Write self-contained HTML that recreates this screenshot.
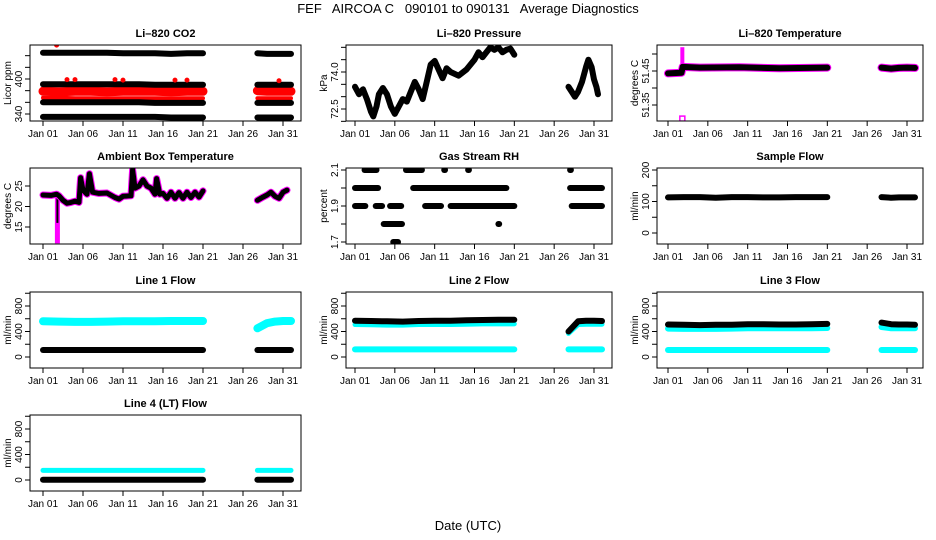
<!DOCTYPE html>
<html><head><meta charset="utf-8">
<style>
html,body{margin:0;padding:0;background:#fff;}
svg{display:block;font-family:"Liberation Sans",sans-serif;}
</style></head>
<body>
<svg id="fig" width="936" height="540" viewBox="0 0 936 540">
<text x="468" y="13" text-anchor="middle" font-size="13" xml:space="preserve">FEF   AIRCOA C   090101 to 090131   Average Diagnostics</text>
<text x="468" y="530" text-anchor="middle" font-size="13">Date (UTC)</text>
</svg>
<script>
// ---- shared day arrays ----
const dayA = [1, 3, 5, 7, 9, 11, 13, 15, 17, 19, 21];
const dayB = [27.8, 29, 30, 31, 32];
const xTickDays = [1, 6, 11, 16, 21, 26, 31];
const xTickLabels = ["Jan 01", "Jan 06", "Jan 11", "Jan 16", "Jan 21", "Jan 26", "Jan 31"];

// ---- CO2 ----
const co2Black1A = [445, 445, 445, 445, 445, 444, 444, 444, 443, 444, 444];
const co2Black1B = [444, 443, 443, 443, 443];
const co2Black2A = [391, 391, 391, 391, 391, 391, 391, 390, 390, 390, 390];
const co2Black2B = [390, 390, 390, 390, 390];
const co2RedA = [379, 378, 379, 379, 378, 379, 379, 379, 378, 379, 379];
const co2RedB = [380, 379, 379, 379, 379];
const co2Red2A = [368, 368, 367, 367, 367, 367, 367, 367, 367, 367, 367];
const co2Red2B = [367, 367, 367, 367, 367];
const co2Black3A = [360, 360, 360, 360, 360, 360, 360, 359, 359, 359, 359];
const co2Black3B = [359, 359, 359, 359, 359];
const co2Black4A = [335, 335, 335, 335, 335, 335, 335, 335, 334, 334, 334];
const co2Black4B = [334, 334, 334, 334, 334];
const co2OutDays = [2.7, 4, 5, 10, 11, 17.5, 19, 30.5];
const co2OutVals = [458, 399, 399, 399, 398, 398, 398, 397];

// ---- Pressure ----
const presDaysA = [1, 1.5, 2, 2.5, 3, 3.3, 3.7, 4, 4.5, 5, 5.5, 6, 6.5, 7, 7.5, 8, 8.5, 9, 9.5, 10, 10.5, 11, 11.5, 12, 12.5, 13, 14, 15, 16, 16.5, 17, 17.5, 18, 18.5, 19, 19.5, 20, 20.5, 21];
const presValsA = [73.4, 73.1, 73.3, 72.9, 72.4, 72.2, 72.6, 73.1, 73.35, 73.1, 72.6, 72.3, 72.6, 72.9, 72.8, 73.2, 73.6, 73.3, 72.9, 73.6, 74.3, 74.45, 74.1, 73.75, 74.15, 74.0, 73.85, 74.1, 74.5, 74.8, 74.6, 74.8, 75.0, 74.9, 75.0, 74.8, 74.9, 74.95, 74.7];
const presDaysB = [27.8, 28.2, 28.6, 29, 29.5, 30, 30.3, 30.7, 31, 31.3, 31.5];
const presValsB = [73.4, 73.2, 73.0, 73.2, 73.6, 74.2, 74.5, 74.2, 73.7, 73.4, 73.1];

// ---- Li-820 temperature ----
const ltDaysA = [1, 2.7, 2.85, 5, 10, 15, 21];
const ltValsA = [51.443, 51.445, 51.462, 51.46, 51.461, 51.458, 51.46];
const ltValsB = [51.46, 51.457, 51.459, 51.46, 51.459];
const ltSpikeDay = 2.8;
const ltSpikeLo = 51.31;
const ltSpikeHi = 51.52;

// ---- Ambient box temperature ----
const ambDaysA = [1, 2, 2.7, 3, 3.5, 4, 4.5, 5, 5.5, 5.7, 6, 6.5, 6.8, 7.2, 8, 9, 10, 10.5, 11, 12, 12.2, 12.5, 13, 13.5, 14, 14.5, 15, 15.2, 15.6, 16, 16.5, 17, 17.5, 18, 18.5, 19, 19.5, 20, 20.5, 21];
const ambValsA = [22.8, 22.7, 23.0, 22.6, 21.5, 20.8, 21.0, 21.3, 21.0, 27.0, 24.0, 23.0, 28.0, 23.5, 23.2, 23.3, 22.2, 21.8, 22.5, 22.6, 29.0, 24.5, 25.0, 26.5, 25.0, 24.5, 23.0, 26.8, 23.0, 23.2, 22.0, 23.5, 22.0, 23.4, 22.0, 23.5, 22.2, 23.5, 22.3, 23.8];
const ambDaysB = [27.8, 28.5, 29, 29.5, 30, 30.5, 31, 31.5];
const ambValsB = [21.5, 22.3, 22.8, 23.5, 22.5, 22.0, 23.5, 24.0];
const ambSpikeDay = 2.8;
const ambSpikeLo = 11;
const ambSpikeHi = 23;

// ---- Gas stream RH ----
const rhLevel = [2.1, 2.1, 2.1, 2.1, 2.1, 2.0, 2.0, 2.0, 1.9, 1.9, 1.9, 1.9, 1.9, 1.9, 1.8, 1.8, 1.7];
const rhStart = [2.2, 7.4, 12.2, 15.2, 28.0, 1.0, 8.3, 28.0, 1.0, 3.6, 5.4, 9.8, 13.0, 28.2, 4.6, 19.0, 5.8];
const rhEnd   = [3.7, 9.4, 12.3, 15.3, 28.1, 3.9, 20.0, 32.0, 2.3, 4.4, 6.8, 11.8, 21.0, 32.0, 6.9, 19.1, 6.4];

// ---- Sample flow ----
const sfValsA = [113, 114, 114, 112, 114, 114, 113, 113, 114, 114, 114];
const sfValsB = [114, 112, 113, 113, 113];

// ---- Line flows ----
const l1CyanA = [560, 555, 550, 550, 555, 560, 560, 560, 565, 565, 565];
const l1CyanB = [450, 530, 555, 565, 565];
const l1BlackA = [110, 110, 110, 110, 110, 110, 110, 110, 110, 110, 110];
const l1BlackB = [110, 110, 110, 110, 110];
const l2BlackA = [570, 565, 560, 555, 565, 570, 570, 575, 580, 585, 585];
const l2BlackB = [400, 560, 570, 570, 565];
const l2CyanA = [510, 505, 500, 500, 510, 510, 510, 515, 520, 520, 520];
const l2CyanB = [370, 510, 515, 515, 515];
const l2Cyan2A = [120, 120, 120, 120, 120, 120, 120, 120, 120, 120, 120];
const l2Cyan2B = [120, 120, 120, 120, 120];
const l3BlackA = [510, 505, 500, 505, 505, 515, 515, 510, 510, 515, 520];
const l3BlackB = [540, 515, 510, 510, 505];
const l3CyanA = [445, 440, 440, 440, 445, 450, 450, 450, 450, 450, 455];
const l3CyanB = [470, 450, 450, 450, 450];
const l3Cyan2A = [110, 110, 110, 110, 110, 110, 110, 110, 110, 110, 110];
const l3Cyan2B = [110, 110, 110, 110, 110];
const l4CyanA = [150, 150, 150, 150, 150, 150, 150, 150, 150, 150, 150];
const l4CyanB = [150, 150, 150, 150, 150];
const l4BlackA = [5, 5, 5, 5, 5, 5, 5, 5, 5, 5, 5];
const l4BlackB = [5, 5, 5, 5, 5];

const NS = "http://www.w3.org/2000/svg";
const svg = document.getElementById("fig");
const colLeft = [30, 346, 657], colRight = [301, 612, 923], colJan1 = [43, 355, 668];
const rowTop = [45, 168, 292, 415];
const PH = 76;

function mk(tag, attrs, parent) {
  const e = document.createElementNS(NS, tag);
  for (const k in attrs) e.setAttribute(k, attrs[k]);
  (parent || svg).appendChild(e);
  return e;
}

function panel(o) {
  const c = o.col, r = o.row;
  const L = colLeft[c], R = colRight[c], T = rowTop[r], B = T + PH;
  const g = mk("g", {});
  
  
  const xs = d => colJan1[c] + (d - 1) * ((colJan1[c] === 43 ? 240 : 239) / 30);
  const ys = v => T + o.p0 + (v - o.v0) * (o.p1 - o.p0) / (o.v1 - o.v0);
  const t = mk("text", {x: (L + R) / 2, y: T - 8, "text-anchor": "middle", "font-size": 11, "font-weight": "bold"}, g);
  t.textContent = o.title;
  
  
  const cp = mk("clipPath", {id: "clip-" + o.name}, g);
  mk("rect", {x: L, y: T, width: R - L, height: PH}, cp);
  const dg = mk("g", {"clip-path": "url(#clip-" + o.name + ")"}, g);
  
  
  o.draw(dg, xs, ys);
  const fr = mk("rect", {x: L, y: T, width: R - L, height: PH, fill: "none", stroke: "#000", "stroke-width": 1}, g);
  
  
  const xa = mk("g", {}, g);
  
  
  xTickDays.forEach((d, i) => {
    mk("line", {x1: xs(d), x2: xs(d), y1: B, y2: B + 5, stroke: "#000"}, xa);
    const tl = mk("text", {x: xs(d), y: B + 16, "text-anchor": "middle", "font-size": 10}, xa);
    tl.textContent = xTickLabels[i];
  });
  const ya = mk("g", {}, g);
  
  
  const yt = o.ticks.filter(v => ys(v) >= T - 0.5 && ys(v) <= B + 0.5);
  mk("line", {x1: L, x2: L, y1: ys(yt[0]), y2: ys(yt[yt.length - 1]), stroke: "#000"}, ya);
  yt.forEach(v => mk("line", {x1: L - 5, x2: L, y1: ys(v), y2: ys(v), stroke: "#000"}, ya));
  o.labels.forEach(v => {
    const yl = mk("text", {x: L - 8, y: ys(v), "text-anchor": "middle", "font-size": 10, transform: "rotate(-90 " + (L - 8) + " " + ys(v) + ")"}, ya);
    yl.textContent = o.fmt ? o.fmt(v) : String(v);
  });
  const yl2 = mk("text", {x: L - 19, y: (T + B) / 2, "text-anchor": "middle", "font-size": 10, transform: "rotate(-90 " + (L - 19) + " " + ((T + B) / 2) + ")"}, ya);
  yl2.textContent = o.ylab;
  
  
}

function band(g, xs, ys, days, vals, color, w, name) {
  const pts = days.map((d, i) => xs(d).toFixed(1) + "," + ys(vals[i]).toFixed(1)).join(" ");
  const p = mk("polyline", {points: pts, fill: "none", stroke: color, "stroke-width": w, "stroke-linecap": "round", "stroke-linejoin": "round"}, g);
  
  
}
function both(g, xs, ys, a, b, color, w, name) {
  band(g, xs, ys, dayA, a, color, w, name + '-a');
  band(g, xs, ys, dayB, b, color, w, name + '-b');
}
function vspike(g, xs, ys, d, lo, hi, color, w, name) {
  const l = mk("line", {x1: xs(d), x2: xs(d), y1: ys(lo), y2: ys(hi), stroke: color, "stroke-width": w}, g);
  
  
}
const fmt1 = v => v.toFixed(1);

panel({name: "co2", col: 0, row: 0, title: "Li\u2013820 CO2", ylab: "Licor ppm", v0: 340, p0: 69, v1: 400, p1: 34,
  ticks: [340, 360, 380, 400, 420, 440, 460], labels: [340, 400],
  draw: (g, xs, ys) => {
    both(g, xs, ys, co2Black1A, co2Black1B, "#000", 6, "co2-band-445");
    both(g, xs, ys, co2RedA, co2RedB, "#f00", 9, "co2-red-band");
    both(g, xs, ys, co2Black2A, co2Black2B, "#000", 6, "co2-band-391");
    both(g, xs, ys, co2Red2A, co2Red2B, "#f00", 4, "co2-red-band-2");
    both(g, xs, ys, co2Black3A, co2Black3B, "#000", 6, "co2-band-360");
    both(g, xs, ys, co2Black4A, co2Black4B, "#000", 6, "co2-band-335");
    co2OutDays.forEach((d, i) => {
      const c = mk("circle", {cx: xs(d), cy: ys(co2OutVals[i]), r: 2, fill: "#f00", stroke: "#f00", "stroke-width": 1}, g);
      
      
    });
  }});

panel({name: "pressure", col: 1, row: 0, title: "Li\u2013820 Pressure", ylab: "kPa", v0: 72.5, p0: 64, v1: 74.0, p1: 27,
  ticks: [72, 72.5, 73, 73.5, 74, 74.5, 75, 75.5], labels: [72.5, 74.0], fmt: fmt1,
  draw: (g, xs, ys) => {
    band(g, xs, ys, presDaysA, presValsA, "#000", 6, "pressure-line-a");
    band(g, xs, ys, presDaysB, presValsB, "#000", 6, "pressure-line-b");
  }});

panel({name: "li820-temp", col: 2, row: 0, title: "Li\u2013820 Temperature", ylab: "degrees C", v0: 51.35, p0: 60, v1: 51.45, p1: 26,
  ticks: [51.3, 51.35, 51.4, 51.45, 51.5], labels: [51.35, 51.45], fmt: v => v.toFixed(2),
  draw: (g, xs, ys) => {
    vspike(g, xs, ys, ltSpikeDay, 51.46, ltSpikeHi, "#f0f", 4, "li820-temp-spike");
    const sq = mk("rect", {x: xs(ltSpikeDay) - 2.5, y: ys(ltSpikeLo) - 2.5, width: 5, height: 5, fill: "none", stroke: "#f0f", "stroke-width": 1.5}, g);
    
    
    band(g, xs, ys, ltDaysA, ltValsA, "#f0f", 8, "li820-temp-magenta-a");
    band(g, xs, ys, dayB, ltValsB, "#f0f", 8, "li820-temp-magenta-b");
    band(g, xs, ys, ltDaysA, ltValsA, "#000", 6, "li820-temp-line-a");
    band(g, xs, ys, dayB, ltValsB, "#000", 6, "li820-temp-line-b");
  }});

panel({name: "ambient-temp", col: 0, row: 1, title: "Ambient Box Temperature", ylab: "degrees C", v0: 15, p0: 59, v1: 25, p1: 18,
  ticks: [15, 20, 25], labels: [15, 20, 25],
  draw: (g, xs, ys) => {
    vspike(g, xs, ys, ambSpikeDay, ambSpikeLo, ambSpikeHi, "#f0f", 5, "ambient-temp-spike");
    vspike(g, xs, ys, ambSpikeDay, ambSpikeLo + 5, ambSpikeHi, "#000", 2, "ambient-temp-spike-core");
    band(g, xs, ys, ambDaysA, ambValsA, "#f0f", 7, "ambient-temp-magenta-a");
    band(g, xs, ys, ambDaysB, ambValsB, "#f0f", 7, "ambient-temp-magenta-b");
    band(g, xs, ys, ambDaysA, ambValsA, "#000", 5, "ambient-temp-line-a");
    band(g, xs, ys, ambDaysB, ambValsB, "#000", 5, "ambient-temp-line-b");
  }});

panel({name: "gas-rh", col: 1, row: 1, title: "Gas Stream RH", ylab: "percent", v0: 1.7, p0: 74, v1: 2.1, p1: 2,
  ticks: [1.7, 1.8, 1.9, 2.0, 2.1], labels: [1.7, 1.9, 2.1], fmt: fmt1,
  draw: (g, xs, ys) => {
    rhLevel.forEach((lv, i) => {
      const l = mk("line", {x1: xs(rhStart[i]), x2: xs(rhEnd[i]), y1: ys(lv), y2: ys(lv), stroke: "#000", "stroke-width": 6, "stroke-linecap": "round"}, g);
      
      
    });
  }});

panel({name: "sample-flow", col: 2, row: 1, title: "Sample Flow", ylab: "ml/min", v0: 0, p0: 65, v1: 200, p1: 2,
  ticks: [0, 50, 100, 150, 200], labels: [0, 100, 200],
  draw: (g, xs, ys) => {
    both(g, xs, ys, sfValsA, sfValsB, "#000", 6, "sample-flow-line");
  }});

const flowTicks = [0, 200, 400, 600, 800, 1000];
const flowLabels = [0, 400, 800];
panel({name: "line1-flow", col: 0, row: 2, title: "Line 1 Flow", ylab: "ml/min", v0: 0, p0: 65, v1: 800, p1: 14,
  ticks: flowTicks, labels: flowLabels,
  draw: (g, xs, ys) => {
    both(g, xs, ys, l1CyanA, l1CyanB, "#0ff", 8, "line1-flow-cyan");
    both(g, xs, ys, l1BlackA, l1BlackB, "#000", 6, "line1-flow-black");
  }});
panel({name: "line2-flow", col: 1, row: 2, title: "Line 2 Flow", ylab: "ml/min", v0: 0, p0: 65, v1: 800, p1: 14,
  ticks: flowTicks, labels: flowLabels,
  draw: (g, xs, ys) => {
    both(g, xs, ys, l2CyanA, l2CyanB, "#0ff", 5, "line2-flow-cyan");
    both(g, xs, ys, l2Cyan2A, l2Cyan2B, "#0ff", 6, "line2-flow-cyan-low");
    both(g, xs, ys, l2BlackA, l2BlackB, "#000", 6, "line2-flow-black");
  }});
panel({name: "line3-flow", col: 2, row: 2, title: "Line 3 Flow", ylab: "ml/min", v0: 0, p0: 65, v1: 800, p1: 14,
  ticks: flowTicks, labels: flowLabels,
  draw: (g, xs, ys) => {
    both(g, xs, ys, l3CyanA, l3CyanB, "#0ff", 6, "line3-flow-cyan");
    both(g, xs, ys, l3Cyan2A, l3Cyan2B, "#0ff", 6, "line3-flow-cyan-low");
    both(g, xs, ys, l3BlackA, l3BlackB, "#000", 6, "line3-flow-black");
  }});
panel({name: "line4-flow", col: 0, row: 3, title: "Line 4 (LT) Flow", ylab: "ml/min", v0: 0, p0: 65, v1: 800, p1: 14,
  ticks: flowTicks, labels: flowLabels,
  draw: (g, xs, ys) => {
    both(g, xs, ys, l4CyanA, l4CyanB, "#0ff", 5, "line4-flow-cyan");
    both(g, xs, ys, l4BlackA, l4BlackB, "#000", 6, "line4-flow-black");
  }});
</script>
</body></html>
